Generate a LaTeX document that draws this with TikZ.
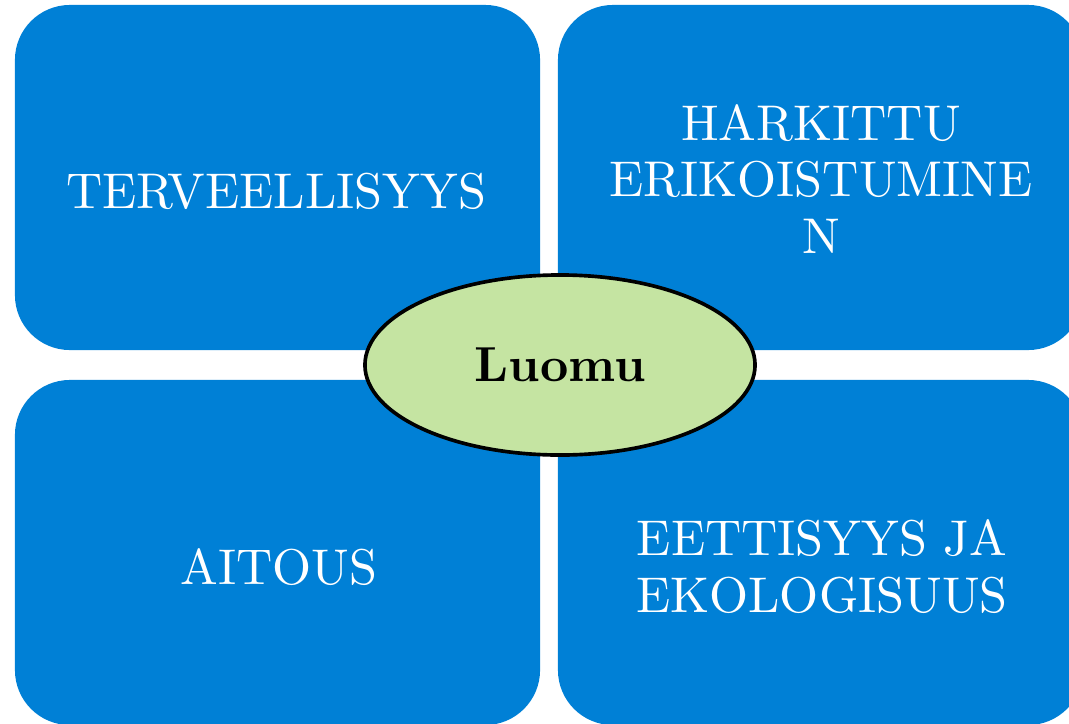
\documentclass[tikz,border=0pt]{standalone}
\usepackage{fontspec}
\setmainfont{lmroman10-regular.otf}[BoldFont=lmroman10-bold.otf]
\usetikzlibrary{shapes.geometric}
\definecolor{tileblue}{RGB}{0,128,214}
\definecolor{leafgreen}{RGB}{197,228,162}
\tikzset{
  tile/.style={fill=tileblue, rounded corners=1.375cm, minimum width=13.125cm,
    minimum height=8.625cm, inner sep=0pt},
  tiletext/.style={text=white, font=\fontsize{35.7}{40.5}\selectfont, align=center, inner sep=0pt},
  hub/.style={ellipse, draw=black, line width=2.6pt, fill=leafgreen, minimum width=9.75cm,
    minimum height=4.5cm, inner sep=0pt, font=\fontsize{35}{40}\selectfont\bfseries}
}
\begin{document}
\begin{tikzpicture}[x=0.025cm, y=-0.025cm]
  \useasboundingbox (0,0) rectangle (1069,723);
  \clip (0,0) rectangle (1069,723);
  % four tiles
  \node[tile] (health) at (277.5,177.5) {};
  \node[tile] (special) at (820.5,177.5) {};
  \node[tile] (genuine) at (277.5,552.5) {};
  \node[tile] (ethics) at (820.5,552.5) {};
  % tile texts
  \node[tiletext] (healthtext) at (276,191) {TERVEELLISYYS};
  \node[tiletext] (specialtext) at (821,179) {HARKITTU\\ERIKOISTUMINE\\N};
  \node[tiletext] (genuinetext) at (279,567.5) {AITOUS};
  \node[tiletext] (ethicstext) at (822,567) {EETTISYYS JA\\EKOLOGISUUS};
  % centre
  \node[hub] (organic) at (560,365) {Luomu};
\end{tikzpicture}
\end{document}
